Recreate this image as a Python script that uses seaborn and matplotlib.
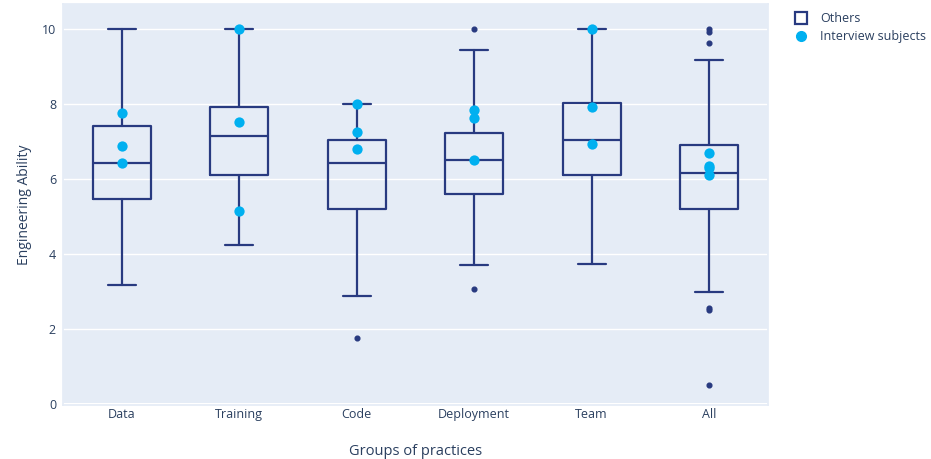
import matplotlib
matplotlib.use("Agg")
import matplotlib.pyplot as plt
from matplotlib.lines import Line2D
import seaborn as sns
import pandas as pd

# Groups and box statistics for all respondents ("Others")
groups = ["Data", "Training", "Code", "Deployment", "Team", "All"]
whisker_low = [3.17, 4.26, 2.89, 3.71, 3.75, 3.00]
q1 = [5.47, 6.13, 5.21, 5.60, 6.11, 5.20]
median = [6.44, 7.16, 6.44, 6.51, 7.06, 6.18]
q3 = [7.43, 7.92, 7.05, 7.25, 8.05, 6.93]
whisker_high = [10.0, 10.0, 8.0, 9.46, 10.0, 9.18]
outliers = [[], [], [1.77], [10.0, 3.08], [], [10.0, 9.93, 9.65, 2.58, 2.51, 0.51]]

# Scores of the interview subjects per group
subject_group = ["Data"] * 3 + ["Training"] * 3 + ["Code"] * 3 + ["Deployment"] * 3 + ["Team"] * 3 + ["All"] * 4
subject_score = [7.76, 6.89, 6.45,
                 10.0, 7.54, 5.16,
                 8.0, 7.26, 6.81,
                 7.86, 7.64, 6.53,
                 10.0, 7.94, 6.95,
                 6.70, 6.36, 6.30, 6.13]

NAVY = "#283a80"
CYAN = "#00b0f0"
TEXT = "#2a3f5f"

sns.set_theme(style="darkgrid", rc={
    "axes.facecolor": "#e5ecf6",
    "grid.color": "white",
    "grid.linewidth": 1.0,
    "axes.edgecolor": "#e5ecf6",
})
plt.rcParams["font.family"] = ["Open Sans", "DejaVu Sans"]

fig = plt.figure(figsize=(9.31, 4.59), dpi=100)
ax = fig.add_axes([63 / 931, 1 - 405 / 459, (768 - 63) / 931, (405 - 4) / 459])

stats = []
for i, g in enumerate(groups):
    stats.append(dict(label=g, whislo=whisker_low[i], q1=q1[i], med=median[i],
                      q3=q3[i], whishi=whisker_high[i], fliers=outliers[i]))

ax.bxp(stats, positions=range(len(groups)), widths=0.49, showfliers=True,
       boxprops=dict(color=NAVY, linewidth=1.6),
       medianprops=dict(color=NAVY, linewidth=1.6),
       whiskerprops=dict(color=NAVY, linewidth=1.6),
       capprops=dict(color=NAVY, linewidth=1.6),
       capwidths=0.24,
       flierprops=dict(marker="o", markersize=3.4, markerfacecolor=NAVY,
                       markeredgecolor=NAVY, linestyle="none"),
       zorder=3)

subjects = pd.DataFrame({"group": subject_group, "score": subject_score})
sns.stripplot(data=subjects, x="group", y="score", order=groups, jitter=False,
              color=CYAN, size=7.4, linewidth=0, ax=ax, zorder=4)

ax.set_xlim(-0.5, 5.5)
ax.set_ylim(-0.02, 10.68)
ax.set_yticks([0, 2, 4, 6, 8, 10])
ax.set_xticks(range(len(groups)))
ax.set_xticklabels(groups)
ax.axhline(0, color="white", linewidth=2.2, zorder=1)
ax.grid(axis="x", visible=False)
ax.tick_params(axis="both", colors=TEXT, labelsize=9, length=0)
ax.tick_params(axis="y", pad=5)
ax.tick_params(axis="x", pad=2.5)
ax.set_xlabel("Groups of practices", color=TEXT, fontsize=10.5, labelpad=16.5)
ax.set_ylabel("Engineering Ability", color=TEXT, fontsize=10, labelpad=7)

handles = [
    Line2D([], [], marker="s", linestyle="none", markersize=9,
           markerfacecolor="none", markeredgecolor=NAVY, markeredgewidth=1.6),
    Line2D([], [], marker="o", linestyle="none", markersize=7,
           markerfacecolor=CYAN, markeredgecolor=CYAN),
]
fig.legend(handles, ["Others", "Interview subjects"], loc="upper left",
           bbox_to_anchor=(787 / 931, 1 - 7 / 459), frameon=False,
           fontsize=9, labelcolor=TEXT, handletextpad=0.85, labelspacing=0.42,
           borderaxespad=0, handlelength=1.4)

fig.savefig("out.png", dpi=100)
